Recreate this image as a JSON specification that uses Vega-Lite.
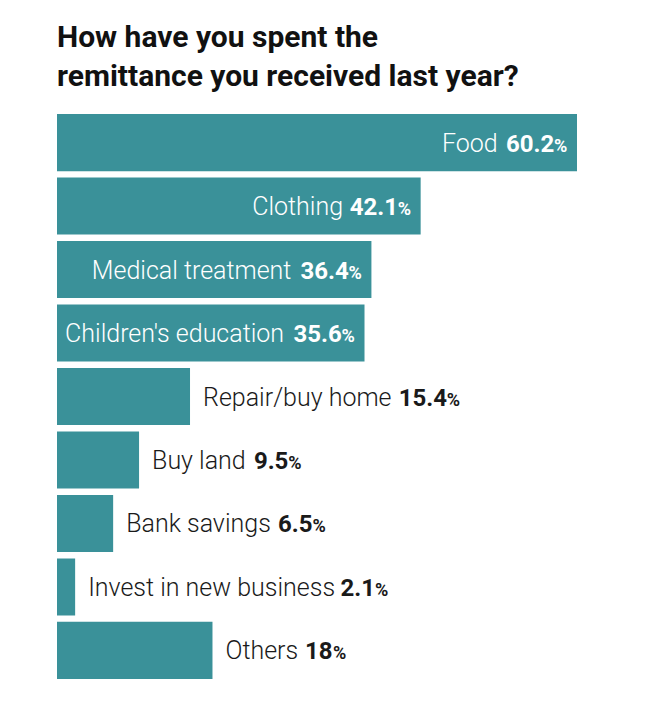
{
  "$schema": "https://vega.github.io/schema/vega-lite/v6.json",
  "width": 593,
  "height": 565,
  "autosize": "none",
  "padding": {"left": 57, "top": 114, "right": 0, "bottom": 41},
  "background": "white",
  "title": {
    "text": ["How have you spent the", "remittance you received last year?"],
    "anchor": "start",
    "frame": "group",
    "font": "Roboto",
    "fontWeight": "bold",
    "fontSize": 30,
    "lineHeight": 39,
    "color": "#111111",
    "offset": 22
  },
  "config": {"view": {"stroke": null}},
  "data": {
    "values": [
      {"name": "Food", "value": 60.2},
      {"name": "Clothing", "value": 42.1},
      {"name": "Medical treatment", "value": 36.4},
      {"name": "Children's education", "value": 35.6},
      {"name": "Repair/buy home", "value": 15.4},
      {"name": "Buy land", "value": 9.5},
      {"name": "Bank savings", "value": 6.5},
      {"name": "Invest in new business", "value": 2.1},
      {"name": "Others", "value": 18}
    ]
  },
  "transform": [
    {"calculate": "toString(datum.value)", "as": "num"},
    {"calculate": "0.535*length(datum.name) + (0.235-0.535)*(length(datum.name)-length(replace(datum.name, regexp(\"[ilIj']\",'g'), ''))) + (0.33-0.535)*(length(datum.name)-length(replace(datum.name, regexp('[tf]','g'), ''))) + (0.248-0.535)*(length(datum.name)-length(replace(datum.name, regexp(' ','g'), ''))) + (0.411-0.535)*(length(datum.name)-length(replace(datum.name, regexp('/','g'), ''))) + (0.331-0.535)*(length(datum.name)-length(replace(datum.name, regexp('r','g'), ''))) + (0.876-0.535)*(length(datum.name)-length(replace(datum.name, regexp('[mM]','g'), ''))) + (0.733-0.535)*(length(datum.name)-length(replace(datum.name, regexp('w','g'), ''))) + (0.64-0.535)*(length(datum.name)-length(replace(datum.name, regexp('[A-HJ-LN-Z]','g'), ''))) + (0.49-0.535)*(length(datum.name)-length(replace(datum.name, regexp('[cksvyz]','g'), '')))", "as": "nameEm"},
    {"calculate": "datum.nameEm*25", "as": "nameW"},
    {"calculate": "(0.562*(length(datum.num)-(indexof(datum.num,'.')>=0?1:0)) + 0.27*(indexof(datum.num,'.')>=0?1:0))*24", "as": "numW"},
    {"calculate": "datum.value>=30 ? datum.value*520/60.2 - 10 - 13 - 1 - datum.numW - 8 - datum.nameW : datum.value*520/60.2 + 13", "as": "startPx"},
    {"calculate": "datum.startPx*60.2/520", "as": "nameX"},
    {"calculate": "(datum.startPx + datum.nameW + 8)*60.2/520", "as": "numX"},
    {"calculate": "(datum.startPx + datum.nameW + 8 + datum.numW + 1)*60.2/520", "as": "pctX"}
  ],
  "encoding": {
    "y": {
      "field": "name",
      "type": "nominal",
      "sort": null,
      "axis": null,
      "scale": {"paddingInner": 0.1, "paddingOuter": 0}
    }
  },
  "layer": [
    {
      "mark": {"type": "bar", "color": "#3a9199", "cornerRadius": 0},
      "encoding": {
        "x": {"field": "value", "type": "quantitative", "axis": null, "scale": {"domain": [0, 60.2], "range": [0, 520], "nice": false, "zero": true}}
      }
    },
    {
      "mark": {"type": "text", "align": "left", "baseline": "alphabetic", "dy": 9, "font": "Roboto", "fontWeight": 300, "fontSize": 25},
      "encoding": {
        "x": {"field": "nameX", "type": "quantitative"},
        "text": {"field": "name"},
        "color": {"condition": {"test": "datum.value >= 30", "value": "#ffffff"}, "value": "#1a1a1a"}
      }
    },
    {
      "mark": {"type": "text", "align": "left", "baseline": "alphabetic", "dy": 9, "font": "Roboto", "fontWeight": "bold", "fontSize": 24},
      "encoding": {
        "x": {"field": "numX", "type": "quantitative"},
        "text": {"field": "num"},
        "color": {"condition": {"test": "datum.value >= 30", "value": "#ffffff"}, "value": "#1a1a1a"}
      }
    },
    {
      "mark": {"type": "text", "align": "left", "baseline": "alphabetic", "dy": 9, "font": "Roboto", "fontWeight": "bold", "fontSize": 18},
      "encoding": {
        "x": {"field": "pctX", "type": "quantitative"},
        "text": {"value": "%"},
        "color": {"condition": {"test": "datum.value >= 30", "value": "#ffffff"}, "value": "#1a1a1a"}
      }
    }
  ]
}
